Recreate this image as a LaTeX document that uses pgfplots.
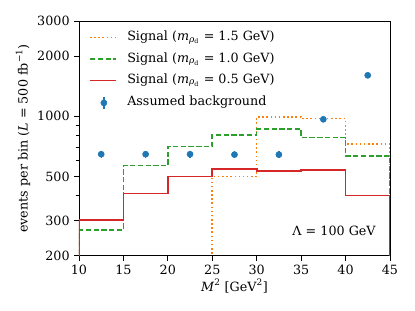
\documentclass[border=0pt]{standalone}
\usepackage{fontspec}
\setmainfont{DejaVu Serif}
\usepackage{pgfplots}
\pgfplotsset{compat=1.18}
\definecolor{tabblue}{HTML}{1F77B4}
\definecolor{taborange}{HTML}{FF7F0E}
\definecolor{tabgreen}{HTML}{2CA02C}
\definecolor{tabred}{HTML}{D62728}
\begin{document}
\fontsize{9.2}{11}\selectfont
\begin{tikzpicture}
\begin{axis}[
  at={(0,0)}, anchor=south west,
  scale only axis, width=224.8pt, height=169.8pt,
  xmin=10, xmax=45, ymin=200, ymax=3000,
  ymode=log,
  xtick={10,15,20,25,30,35,40,45},
  xticklabels={10,15,20,25,30,35,40,45},
  ytick={200,300,500,1000,2000,3000},
  yticklabels={200,300,500,1000,2000,3000},
  minor ytick={400,600,700,800,900},
  minor xtick={},
  tick pos=left, tick align=outside,
  major tick length=3.5pt, minor tick length=2pt,
  every tick/.style={black, line width=0.6pt},
  axis line style={line width=0.6pt},
  xlabel={\textit{M}\textsuperscript{2} [GeV\textsuperscript{2}]},
  ylabel={events per bin (\textit{L} = 500 fb\textsuperscript{−1})},
  xlabel style={at={(axis description cs:0.5,-0.128)}, anchor=center},
  ylabel style={at={(axis description cs:-0.18,0.5)}, anchor=center},
  legend cell align=left,
  legend style={at={(axis description cs:0.032,0.956)}, anchor=north west,
    draw=none, fill=none, inner sep=0pt, row sep=7pt, column sep=7.5pt,
    nodes={inner sep=0pt, text height=6.5pt, text depth=2pt}},
  legend image code/.code={\draw[#1] (0pt,0pt) -- (18.8pt,0pt);},
]
\addplot[const plot, taborange, line width=1.1pt, dash pattern=on 1.1pt off 1.9pt]
  coordinates {(25,100) (25,500) (30,992) (35,973) (40,727) (45,727) (45,100)};
\addlegendentry{Signal (\textit{m}\textsubscript{\textit{ρ}\textsubscript{d}} = 1.5 GeV)}
\addplot[const plot, tabgreen, line width=1.1pt, dash pattern=on 3.9pt off 1.7pt]
  coordinates {(10,100) (10,270) (15,566) (20,705) (25,804) (30,864) (35,782) (40,633) (45,633) (45,100)};
\addlegendentry{Signal (\textit{m}\textsubscript{\textit{ρ}\textsubscript{d}} = 1.0 GeV)}
\addplot[const plot, tabred, line width=1.2pt]
  coordinates {(10,100) (10,302) (15,410) (20,499) (25,545) (30,533) (35,540) (40,401) (45,401) (45,100)};
\addlegendentry{Signal (\textit{m}\textsubscript{\textit{ρ}\textsubscript{d}} = 0.5 GeV)}
\addplot[only marks, mark=*, mark size=2.2pt, tabblue,
  legend image code/.code={\draw[tabblue, line width=1pt] (10pt,-4.5pt) -- (10pt,4.5pt); \fill[tabblue] (10pt,0pt) circle (2.2pt);},
  error bars/.cd, y dir=both, y explicit, error bar style={tabblue, line width=1pt}, error mark=none]
  table[x=x, y=y, y error=e] {
  x y e
  12.5 646 25.4
  17.5 646 25.4
  22.5 646 25.4
  27.5 643 25.4
  32.5 643 25.4
  37.5 966 31.1
  42.5 1604 40.0
  };
\addlegendentry{Assumed background}
\node[anchor=east] at (axis cs:43.9,267) {Λ = 100 GeV};
\end{axis}
\pgfresetboundingbox
\path (-57.1pt,-39.7pt) rectangle (242.9pt,185pt);
\end{tikzpicture}
\end{document}
